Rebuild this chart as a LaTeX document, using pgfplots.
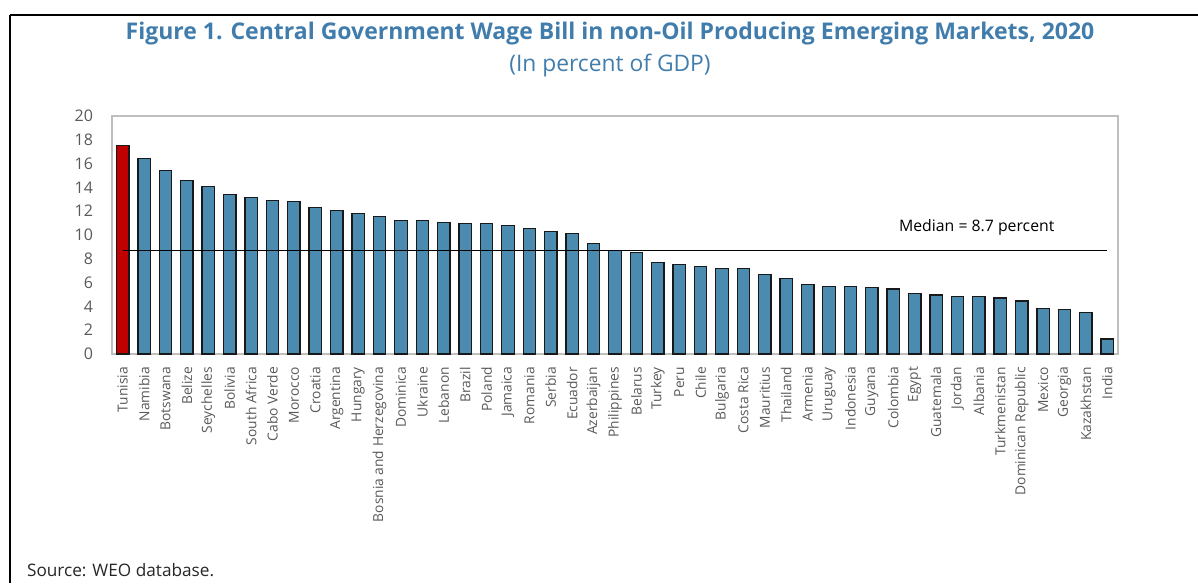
\documentclass[border=0pt]{standalone}
\usepackage{fontspec}
\setmainfont{Open Sans}
\usepackage{pgfplots}
\pgfplotsset{compat=1.18}
\definecolor{barblue}{RGB}{75,139,175}
\definecolor{barred}{RGB}{192,0,0}
\definecolor{titleblue}{RGB}{65,125,172}
\definecolor{ticktext}{RGB}{89,89,89}
\definecolor{framegray}{RGB}{191,191,191}
\begin{document}
\begin{tikzpicture}
\path[use as bounding box] (0pt,0pt) rectangle (599pt,291.5pt);
% outer frame (top and left)
\draw[black, line width=1pt] (5pt,284pt) -- (599pt,284pt);
\draw[black, line width=1pt] (5pt,284pt) -- (5pt,0pt);
% titles
\node[font=\bfseries\fontsize{11.5}{13}\selectfont, text=titleblue] at (305pt,274.5pt) {Figure 1. Central Government Wage Bill in non-Oil Producing Emerging Markets, 2020};
\node[font=\fontsize{11.4}{13}\selectfont, text=titleblue] at (305pt,258.5pt) {(In percent of GDP)};
\node[font=\fontsize{8.6}{10}\selectfont, anchor=west, text=black!85] at (10pt,6.5pt) {Source: WEO database.};
\begin{axis}[
  at={(56pt,114.5pt)}, anchor=south west,
  scale only axis, width=503pt, height=119pt,
  xmin=-0.5, xmax=46.5, ymin=0, ymax=20,
  ytick={0,2,...,20},
  xtick={0,...,46},
  xticklabels={Tunisia,Namibia,Botswana,Belize,Seychelles,Bolivia,South Africa,Cabo Verde,Morocco,Croatia,Argentina,Hungary,Bosnia and Herzegovina,Dominica,Ukraine,Lebanon,Brazil,Poland,Jamaica,Romania,Serbia,Ecuador,Azerbaijan,Philippines,Belarus,Turkey,Peru,Chile,Bulgaria,Costa Rica,Mauritius,Thailand,Armenia,Uruguay,Indonesia,Guyana,Colombia,Egypt,Guatemala,Jordan,Albania,Turkmenistan,Dominican Republic,Mexico,Georgia,Kazakhstan,India},
  major tick length=0pt,
  axis line style={framegray, line width=0.6pt},
  xticklabel style={rotate=90, anchor=east, font=\fontsize{6.9}{8}\selectfont, text=ticktext, xshift=-3pt},
  yticklabel style={font=\fontsize{8}{9}\selectfont, text=ticktext, xshift=-6pt},
  /pgf/number format/assume math mode=true,
  ybar, bar shift=0pt, bar width=0.58,
  clip=false,
]
\addplot[fill=barred, draw=black!90, line width=0.65pt] coordinates {(0,17.5)};
\addplot[fill=barblue, draw=black!90, line width=0.65pt] coordinates {
(1,16.4) (2,15.4) (3,14.6) (4,14.1) (5,13.4) (6,13.15) (7,12.9) (8,12.8) (9,12.3)
(10,12.05) (11,11.8) (12,11.55) (13,11.2) (14,11.2) (15,11.05) (16,10.95) (17,10.95)
(18,10.8) (19,10.55) (20,10.3) (21,10.15) (22,9.3) (23,8.7) (24,8.55) (25,7.7)
(26,7.55) (27,7.35) (28,7.2) (29,7.2) (30,6.7) (31,6.35) (32,5.85) (33,5.7)
(34,5.7) (35,5.6) (36,5.45) (37,5.1) (38,4.95) (39,4.85) (40,4.85) (41,4.7)
(42,4.45) (43,3.85) (44,3.75) (45,3.5) (46,1.25)};
\addplot[sharp plot, black, line width=0.8pt, mark=none] coordinates {(0,8.7) (46,8.7)};
\node[font=\fontsize{7.9}{9}\selectfont, text=black] at (axis cs:39.9,10.6) {Median = 8.7 percent};
\end{axis}
\end{tikzpicture}
\end{document}
